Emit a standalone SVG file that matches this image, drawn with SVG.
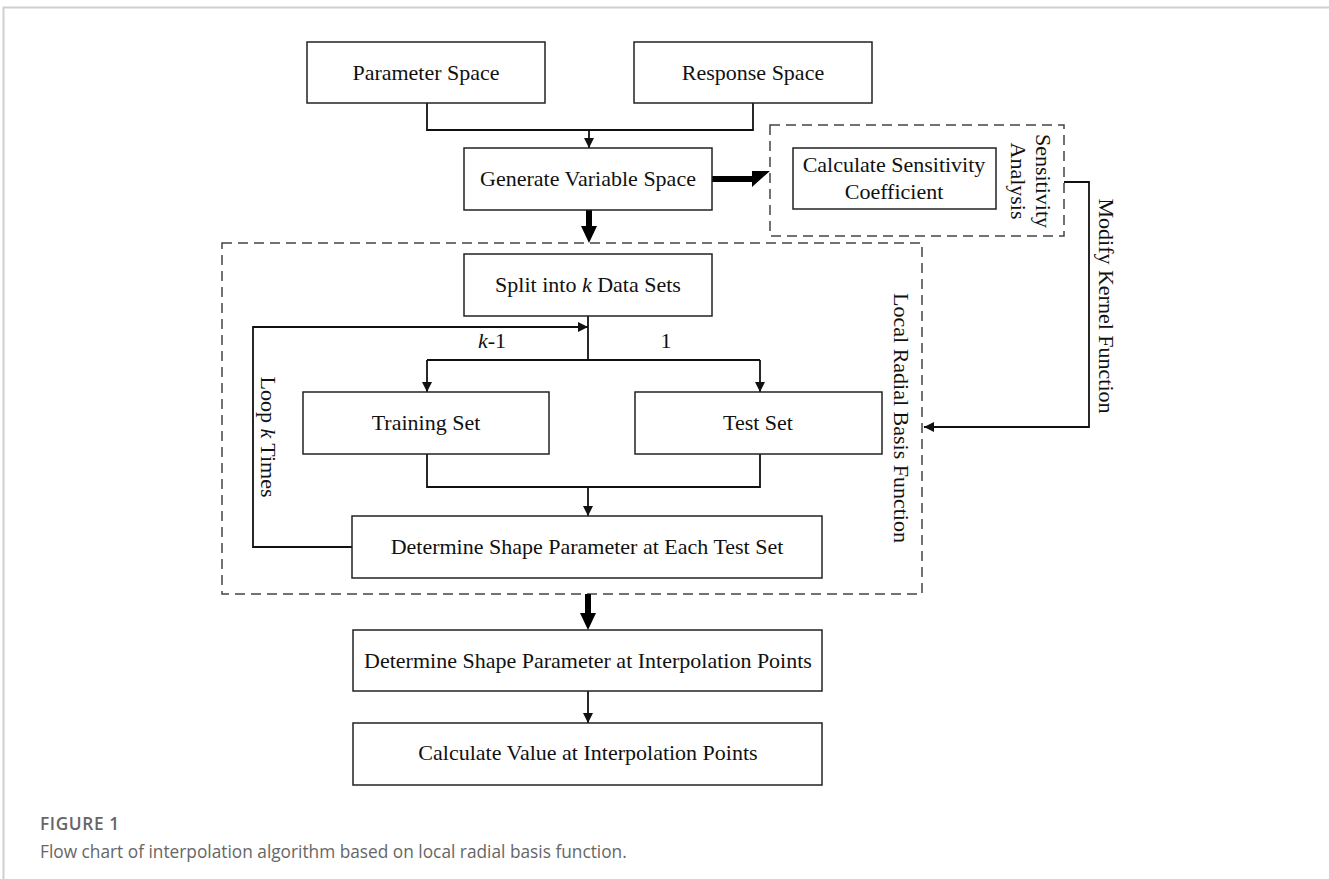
<svg xmlns="http://www.w3.org/2000/svg" width="1329" height="879" viewBox="0 0 1329 879">
  <style>
    .box { fill: #fff; stroke: #222; stroke-width: 1.5; }
    .dash { fill: none; stroke: #444; stroke-width: 1.5; stroke-dasharray: 10 6; }
    .line { fill: none; stroke: #111; stroke-width: 1.8; }
    .lbl { font-family: "Liberation Serif", "Times New Roman", serif; font-size: 22px; fill: #111; text-anchor: middle; }
    .cap { font-family: "Open Sans", "Liberation Sans", sans-serif; font-size: 17.3px; fill: #666; }
  </style>
  <defs>
    <marker id="arr" viewBox="0 0 10 10" refX="10" refY="5" markerWidth="10" markerHeight="10" markerUnits="userSpaceOnUse" orient="auto">
      <path d="M0,0 L10,5 L0,10 Z" fill="#111"/>
    </marker>
  </defs>

  <rect width="1329" height="879" fill="#fff"/>
  <!-- page frame -->
  <path d="M3.5,879 V7.5 H1329" fill="none" stroke="#cfcfcf" stroke-width="2"/>

  <!-- group frames -->
  <g id="sensitivity-group">
    <rect class="dash" x="770" y="125" width="294" height="111"/>
    <text class="lbl" transform="translate(1036,181) rotate(90)">Sensitivity</text>
    <text class="lbl" transform="translate(1011,181) rotate(90)">Analysis</text>
  </g>
  <g id="lrbf-group">
    <rect class="dash" x="222" y="243" width="700" height="351"/>
    <text class="lbl" transform="translate(894,418) rotate(90)">Local Radial Basis Function</text>
  </g>

  <!-- connectors -->
  <g id="connectors">
    <path class="line" d="M427,103 V130 H753 V103"/>
    <path class="line" d="M589,130 V148" marker-end="url(#arr)"/>
    <!-- thick arrow to sensitivity analysis -->
    <path d="M712,176 H752 V171 H770 L752,187 V182 H712 Z" fill="#000"/>
    <!-- thick arrow into local RBF -->
    <path d="M586,210 H592 V226 H597 L589,243 L581,226 H586 Z" fill="#000"/>
    <!-- modify kernel function feedback -->
    <path class="line" d="M1064,182 H1089 V427 H924" marker-end="url(#arr)"/>
    <text class="lbl" transform="translate(1099,306) rotate(90)">Modify Kernel Function</text>
    <!-- split -->
    <path class="line" d="M588,316 V360"/>
    <path class="line" d="M427,360 H760"/>
    <path class="line" d="M427,360 V392" marker-end="url(#arr)"/>
    <path class="line" d="M760,360 V392" marker-end="url(#arr)"/>
    <text class="lbl" x="492" y="348"><tspan font-style="italic">k</tspan>-1</text>
    <text class="lbl" x="666" y="348">1</text>
    <!-- merge -->
    <path class="line" d="M427,454 V487 H760 V454"/>
    <path class="line" d="M588,487 V516" marker-end="url(#arr)"/>
    <!-- loop -->
    <path class="line" d="M352,547 H253 V327 H588" marker-end="url(#arr)"/>
    <text class="lbl" transform="translate(261,437) rotate(90)">Loop <tspan font-style="italic">k</tspan> Times</text>
    <!-- thick arrow out of local RBF -->
    <path d="M585,594 H591 V613 H596 L588,630 L580,613 H585 Z" fill="#000"/>
    <path class="line" d="M588,691 V723" marker-end="url(#arr)"/>
  </g>

  <!-- nodes -->
  <g id="parameter-space">
    <rect class="box" x="307" y="42" width="238" height="61"/>
    <text class="lbl" x="426" y="80">Parameter Space</text>
  </g>
  <g id="response-space">
    <rect class="box" x="634" y="42" width="238" height="61"/>
    <text class="lbl" x="753" y="80">Response Space</text>
  </g>
  <g id="generate-variable-space">
    <rect class="box" x="464" y="148" width="248" height="62"/>
    <text class="lbl" x="588" y="186">Generate Variable Space</text>
  </g>
  <g id="calculate-sensitivity">
    <rect class="box" x="793" y="148" width="203" height="61"/>
    <text class="lbl" x="894" y="172">Calculate Sensitivity</text>
    <text class="lbl" x="894" y="199">Coefficient</text>
  </g>
  <g id="split-data-sets">
    <rect class="box" x="464" y="254" width="248" height="62"/>
    <text class="lbl" x="588" y="292">Split into <tspan font-style="italic">k</tspan> Data Sets</text>
  </g>
  <g id="training-set">
    <rect class="box" x="303" y="392" width="246" height="62"/>
    <text class="lbl" x="426" y="430">Training Set</text>
  </g>
  <g id="test-set">
    <rect class="box" x="635" y="392" width="247" height="62"/>
    <text class="lbl" x="758" y="430">Test Set</text>
  </g>
  <g id="shape-each-test-set">
    <rect class="box" x="352" y="516" width="470" height="62"/>
    <text class="lbl" x="587" y="554">Determine Shape Parameter at Each Test Set</text>
  </g>
  <g id="shape-interpolation-points">
    <rect class="box" x="353" y="630" width="469" height="61"/>
    <text class="lbl" x="588" y="668">Determine Shape Parameter at Interpolation Points</text>
  </g>
  <g id="value-interpolation-points">
    <rect class="box" x="353" y="723" width="469" height="62"/>
    <text class="lbl" x="588" y="760">Calculate Value at Interpolation Points</text>
  </g>

  <!-- caption -->
  <text class="cap" x="40" y="830" font-weight="600" fill="#555" letter-spacing="0.6">FIGURE 1</text>
  <text class="cap" x="40" y="858">Flow chart of interpolation algorithm based on local radial basis function.</text>
</svg>
